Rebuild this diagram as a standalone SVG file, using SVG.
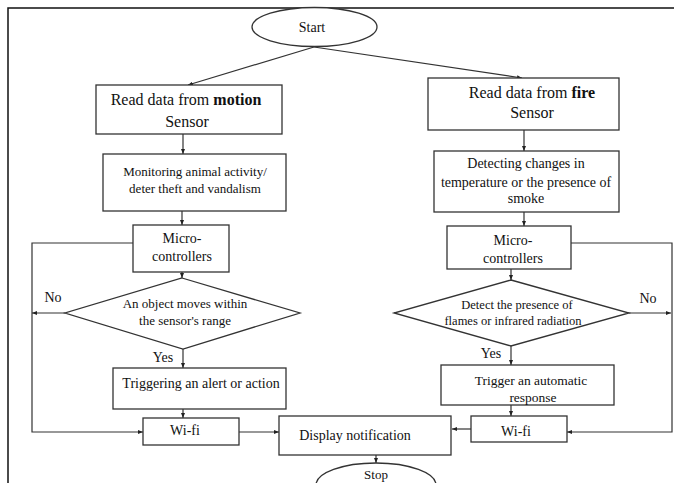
<svg xmlns="http://www.w3.org/2000/svg" width="674" height="483" viewBox="0 0 674 483">
<defs>
<marker id="ah" markerUnits="userSpaceOnUse" markerWidth="5" markerHeight="4" refX="5" refY="2" orient="auto">
<path d="M0,0 L5,2 L0,4 z" fill="#222"/>
</marker>
<style>
.box{fill:#fff;stroke:#333;stroke-width:1.3}
.t{font-family:"Liberation Serif","Times New Roman",serif;fill:#111;text-anchor:middle;font-size:14px}
.c{fill:none;stroke:#333;stroke-width:1.2}
.a{marker-end:url(#ah)}
</style>
</defs>
<rect width="674" height="483" fill="#fff"/>
<g id="frame"><path d="M8,483 V8 H674" fill="none" stroke="#111" stroke-width="1.5"/></g>

<g id="connectors">
<path class="c a" d="M314,47 L188,85"/>
<path class="c a" d="M314,47 L522,78"/>
<path class="c a" d="M183,134 V154"/>
<path class="c a" d="M524,130 V151"/>
<path class="c a" d="M182,211 V225"/>
<path class="c a" d="M524,212 V226"/>
<path class="c a" d="M182,272 V278"/>
<path class="c a" d="M511,269 V280"/>
<path class="c a" d="M133,243 H32 V432 H143"/>
<path class="c a" d="M65,313 H32"/>
<path class="c a" d="M183,349 V368"/>
<path class="c a" d="M183,409 V418"/>
<path class="c a" d="M239,432 H279"/>
<path class="c a" d="M571,243 H672 V432 H567"/>
<path class="c a" d="M629,313 H671"/>
<path class="c a" d="M511,346 V365"/>
<path class="c a" d="M511,405 V416"/>
<path class="c a" d="M471,429 H452"/>
<path class="c a" d="M376,455 V463"/>
</g>

<g id="start">
<ellipse class="box" cx="314.5" cy="27" rx="62.5" ry="19.5"/>
<text class="t" x="312" y="32">Start</text>
</g>

<g id="read-motion">
<rect class="box" x="96" y="85" width="186" height="49"/>
<text class="t" x="186" y="105" style="font-size:16px">Read data from <tspan font-weight="bold">motion</tspan></text>
<text class="t" x="187" y="127" style="font-size:16px">Sensor</text>
</g>

<g id="read-fire">
<rect class="box" x="428" y="78" width="191" height="52"/>
<text class="t" x="532" y="98" style="font-size:16px">Read data from <tspan font-weight="bold">fire</tspan></text>
<text class="t" x="532" y="118" style="font-size:16px">Sensor</text>
</g>

<g id="monitoring">
<rect class="box" x="103" y="154" width="183" height="57"/>
<text class="t" x="195" y="176" style="font-size:13px">Monitoring animal activity/</text>
<text class="t" x="195" y="193" style="font-size:13px">deter theft and vandalism</text>
</g>

<g id="detecting">
<rect class="box" x="434" y="151" width="185" height="61"/>
<text class="t" x="526" y="168">Detecting changes in</text>
<text class="t" x="526" y="187">temperature or the presence of</text>
<text class="t" x="526" y="203">smoke</text>
</g>

<g id="micro-left">
<rect class="box" x="133" y="225" width="96" height="47"/>
<text class="t" x="182" y="243">Micro-</text>
<text class="t" x="182" y="261">controllers</text>
</g>

<g id="micro-right">
<rect class="box" x="447" y="226" width="124" height="43"/>
<text class="t" x="513" y="245">Micro-</text>
<text class="t" x="513" y="263">controllers</text>
</g>

<g id="decision-motion">
<polygon class="box" points="182,278 300,313 183,349 65,313"/>
<text class="t" x="185" y="308" style="font-size:13px">An object moves within</text>
<text class="t" x="185" y="325" style="font-size:13px">the sensor's range</text>
</g>

<g id="decision-fire">
<polygon class="box" points="511,280 629,313 511,346 394,313"/>
<text class="t" x="517" y="309" style="font-size:12.5px">Detect the presence of</text>
<text class="t" x="513" y="325" style="font-size:12.5px">flames or infrared radiation</text>
</g>

<g id="labels">
<text class="t" x="53" y="302">No</text>
<text class="t" x="648" y="303">No</text>
<text class="t" x="163" y="362">Yes</text>
<text class="t" x="491" y="358">Yes</text>
</g>

<g id="triggering-alert">
<rect class="box" x="113" y="368" width="173" height="41"/>
<text class="t" x="201" y="388">Triggering an alert or action</text>
</g>

<g id="trigger-auto">
<rect class="box" x="441" y="365" width="173" height="40"/>
<text class="t" x="531" y="385" style="font-size:13.5px">Trigger an automatic</text>
<text class="t" x="533" y="402" style="font-size:13.5px">response</text>
</g>

<g id="wifi-left">
<rect class="box" x="143" y="418" width="96" height="27"/>
<text class="t" x="185" y="435">Wi-fi</text>
</g>

<g id="wifi-right">
<rect class="box" x="471" y="416" width="96" height="26"/>
<text class="t" x="516" y="436">Wi-fi</text>
</g>

<g id="display">
<rect class="box" x="279" y="416" width="172" height="39"/>
<text class="t" x="355" y="440">Display notification</text>
</g>

<g id="stop">
<ellipse class="box" cx="376" cy="485" rx="60" ry="22"/>
<text class="t" x="376" y="479" style="font-size:13px">Stop</text>
</g>
</svg>
